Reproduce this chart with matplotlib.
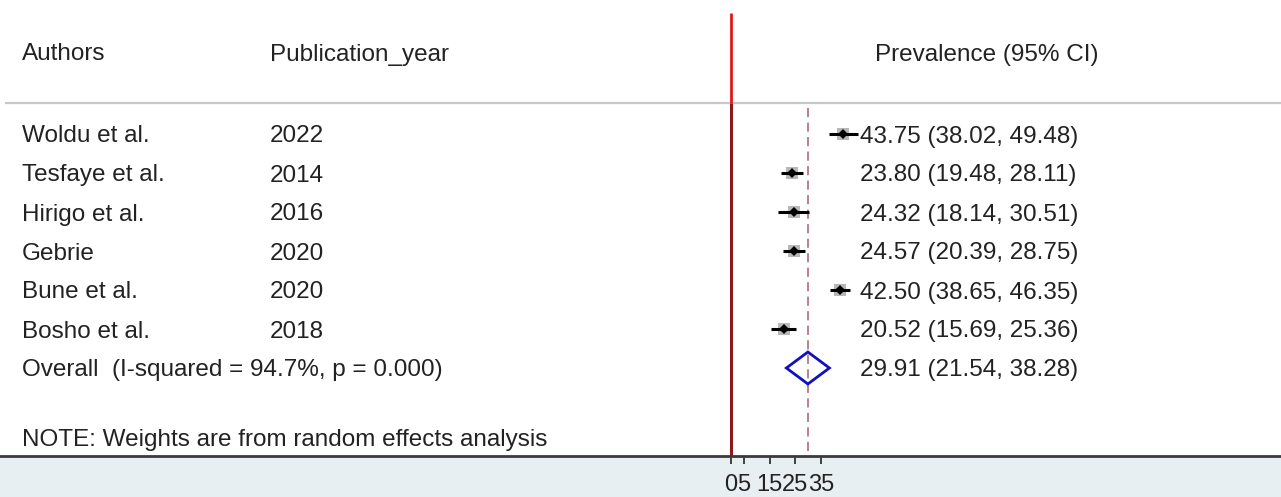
import matplotlib.pyplot as plt
import matplotlib.transforms as mtransforms

authors = ['Woldu et al.', 'Tesfaye et al.', 'Hirigo et al.', 'Gebrie', 'Bune et al.', 'Bosho et al.']
years = [2022, 2014, 2016, 2020, 2020, 2018]
prev = [43.75, 23.80, 24.32, 24.57, 42.50, 20.52]
ci_low = [38.02, 19.48, 18.14, 20.39, 38.65, 15.69]
ci_high = [49.48, 28.11, 30.51, 28.75, 46.35, 25.36]

overall = 29.91
overall_low = 21.54
overall_high = 38.28
i_squared = 94.7
p_value = 0.000

xticks = [0, 5, 15, 25, 35]

plt.rcParams['font.family'] = ['Liberation Sans', 'DejaVu Sans']
TXT = '#222222'
FS = 17.5

W, H = 1281, 497
fig = plt.figure(figsize=(W / 100, H / 100), dpi=100, facecolor='#e8eff3')

# plot region: pixel 0..456 from top; x scale 2.571 px per unit, zero at px 731
px_per_unit = 2.571
zero_px = 731
ax = fig.add_axes([0, (H - 456) / H, 1, 456 / H])
ax.set_facecolor('white')
ax.set_xlim(-zero_px / px_per_unit, (W - zero_px) / px_per_unit)
row_px = 39
first_row_px = 134
ax.set_ylim((456 - first_row_px) / row_px, -first_row_px / row_px)

def row_of(px):
    return (px - first_row_px) / row_px

for s in ['top', 'left', 'right']:
    ax.spines[s].set_visible(False)
ax.spines['bottom'].set_color('#3a3a3a')
ax.spines['bottom'].set_linewidth(2.0)
ax.set_yticks([])
ax.set_xticks(xticks)
ax.set_xticklabels([str(t) for t in xticks])
ax.tick_params(axis='x', direction='out', length=6, width=1.2, color='#222222',
               labelsize=17, labelcolor=TXT, pad=7)

tr = mtransforms.blended_transform_factory(ax.transAxes, ax.transData)

def label(x_px, y, s):
    ax.text(x_px / W, y, s, transform=tr, fontsize=FS, color=TXT, va='center_baseline')

# header
label(22, row_of(52), 'Authors')
label(270, row_of(52), 'Publication_year')
label(875, row_of(52), 'Prevalence (95% CI)')

# separator under header
ax.plot([5 / W, 1], [row_of(103)] * 2, transform=tr, color='#c8c8c8', lw=1.6, solid_capstyle='butt')

# null line
ax.plot([0, 0], [row_of(13), row_of(103)], color='#e01818', lw=2.0, solid_capstyle='butt')
ax.plot([0, 0], [row_of(103), row_of(456)], color='#8b1a1a', lw=2.2, solid_capstyle='butt')

# overall estimate line
ax.plot([overall, overall], [row_of(108), row_of(456)], color='#a0606e', lw=1.1,
        linestyle=(0, (6, 3.5)))

for i, (a, y, e, lo, hi) in enumerate(zip(authors, years, prev, ci_low, ci_high)):
    label(22, i, a)
    label(270, i, str(y))
    label(860, i, f'{e:.2f} ({lo:.2f}, {hi:.2f})')
    ax.plot([lo, hi], [i, i], color='black', lw=2.2, solid_capstyle='butt', zorder=3)
    ax.plot(e, i, marker='s', markersize=8, color='#b8b8b8', markeredgewidth=0, zorder=2)
    ax.plot(e, i, marker='D', markersize=5, color='black', markeredgewidth=0, zorder=4)

# pooled estimate
k = len(authors)
label(22, k, f'Overall  (I-squared = {i_squared:.1f}%, p = {p_value:.3f})')
label(860, k, f'{overall:.2f} ({overall_low:.2f}, {overall_high:.2f})')
hh = 0.41
ax.fill([overall_low, overall, overall_high, overall], [k, k - hh, k, k + hh],
        facecolor='none', edgecolor='#1010c0', lw=2.0, zorder=3)

label(22, row_of(438), 'NOTE: Weights are from random effects analysis')

fig.savefig('out.png', dpi=100, facecolor=fig.get_facecolor())
